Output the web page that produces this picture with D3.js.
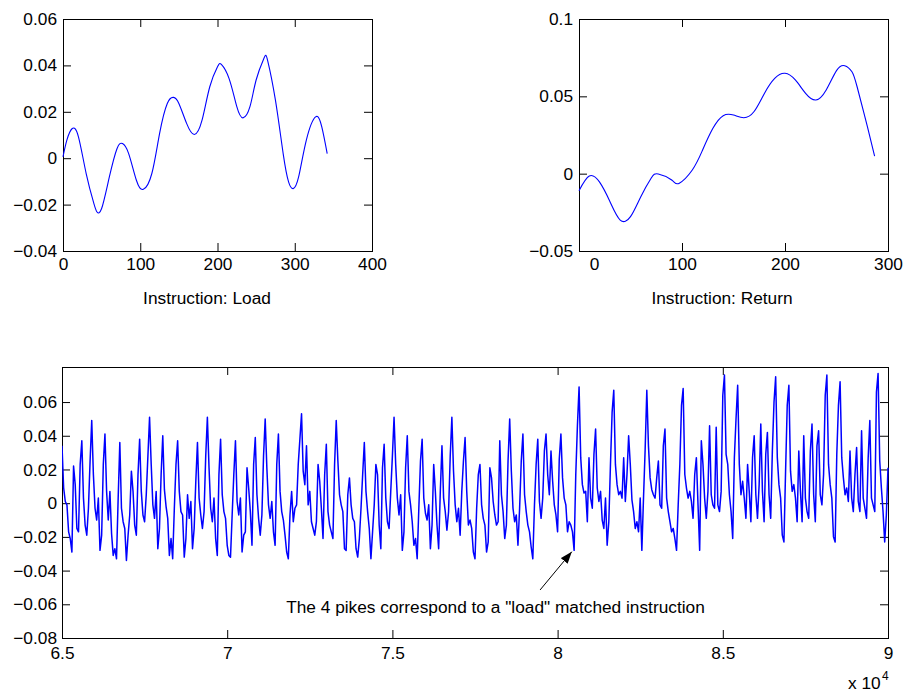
<!DOCTYPE html>
<html>
<head>
<meta charset="utf-8">
<script src="https://cdn.jsdelivr.net/npm/d3@7"></script>
<style>
  body { margin: 0; background: #fff; }
  svg text { font-family: "Liberation Sans", Arial, Helvetica, sans-serif; }
</style>
</head>
<body>
<svg id="fig" width="905" height="692"></svg>
<script>
//////////////////////////////////////////////////////////// DATA ////////////////////////////////////////////////////////////

// top left: instruction "Load" template
var loadX = [0, 5, 12, 20, 30, 40, 44, 50, 60, 70, 77, 85, 95, 104, 115, 125, 135, 143, 150, 160,
             170, 180, 190, 200, 205, 215, 225, 233, 242, 250, 260, 265, 275, 285, 292, 298, 305, 315, 327, 335, 342];
var loadY = [0.0006, 0.0078, 0.0128, 0.0092, -0.0066, -0.0196, -0.0232, -0.0217, -0.0081, 0.0042, 0.0063, 0.0020, -0.0095, -0.0134, -0.0066, 0.0106, 0.0236, 0.0262, 0.0236, 0.0150,
             0.0102, 0.0164, 0.0308, 0.0394, 0.0404, 0.0343, 0.0222, 0.0174, 0.0222, 0.0337, 0.0430, 0.0420, 0.0250, 0.0020, -0.0102, -0.0131, -0.0081, 0.0078, 0.0178, 0.0135, 0.0020];

// top right: instruction "Return" template
var retX = [0, 10, 20, 30, 40, 50, 60, 70, 77, 90, 97, 110, 120, 130, 140, 150, 160, 170, 180, 190,
            200, 210, 220, 230, 240, 250, 258, 265, 270, 280, 287];
var retY = [-0.0110, -0.0015, -0.0055, -0.0180, -0.0300, -0.0278, -0.0149, -0.0030, -0.0002, -0.0041, -0.0063, 0.0024, 0.0153, 0.0293, 0.0375, 0.0379, 0.0362, 0.0402, 0.0519, 0.0616,
            0.0649, 0.0606, 0.0519, 0.0476, 0.0541, 0.0666, 0.0698, 0.0659, 0.0562, 0.0304, 0.0114];

// bottom: power trace, one value every 50 samples from 65000, in thousandths
var traceStart = 65000;
var traceStep = 50;
var traceMilli = [
  34, 9, 1, -1, -17, -21, -29, 22, 11, -15,
  -17, 23, 37, 3, -13, -19, -3, 25, 49, 17,
  -3, -10, 3, -28, -19, 23, 41, 7, -10, 7,
  -18, -31, -27, -33, 3, 36, -3, -11, -15, -34,
  -19, -7, 19, 7, -13, -19, 17, 38, 7, -7,
  -11, 5, 28, 51, 23, -1, -9, 7, -27, -15,
  17, 40, 8, -2, -9, -31, -21, -33, -3, 23,
  37, 7, -5, -7, -32, -21, 5, -9, 1, -27,
  -15, 13, 36, 3, -7, -15, -5, 28, 51, 21,
  -3, -11, 3, -21, -31, 17, 38, 5, -5, -9,
  -25, -31, -32, -7, 17, 37, 1, -7, 3, -29,
  -19, -17, 21, 9, -5, -25, 23, 39, 5, -9,
  -19, -7, 28, 50, 21, -1, -9, 1, -17, -25,
  23, 41, 7, -5, -10, -19, -29, -33, -7, 7,
  -11, -3, -1, 23, 38, 53, 19, 11, 34, -1,
  7, -11, -15, -19, -11, 23, 13, -3, -21, 17,
  35, -5, -13, -17, -21, 23, 49, 25, 5, -1,
  -5, -27, -28, 5, 15, -1, -9, -11, -27, -32,
  -21, -3, 17, 36, 7, -5, -15, -33, -17, -1,
  23, 17, -13, -27, 21, 35, 3, -11, -15, 7,
  28, 51, 23, 3, -7, 5, -28, -17, 21, 40,
  7, -1, -11, -25, -21, -33, -3, 25, 38, 3,
  -6, -10, -1, -27, -13, 23, 7, -13, -27, 7,
  34, 3, -5, -16, -5, 28, 51, 19, -1, -11,
  -3, -19, 7, 25, 39, 7, -13, -10, -15, -29,
  -33, -3, 17, 23, -1, -9, -13, -29, -23, 21,
  15, 1, -7, -13, -11, 37, 5, -5, -21, -13,
  25, 50, 19, -3, -11, -7, -25, -3, 25, 41,
  5, -5, -13, -17, -26, -33, -1, 23, 38, 1,
  -9, 3, 31, 41, 17, 5, 31, 13, -1, -7,
  -17, 26, 41, 15, 3, -1, -17, -11, -13, -17,
  -28, 17, 46, 69, 27, 11, 6, 7, -11, 27,
  3, -3, 29, 44, 9, 1, 7, -10, -15, 3,
  -25, -11, 23, 54, 67, 23, 11, 5, 7, 3,
  27, 1, 17, 40, 23, 2, -5, -15, -11, -17,
  3, -28, 3, 32, 67, 34, 15, 8, 5, 3,
  15, 25, -1, -3, 34, 44, 3, -5, -11, -17,
  -15, -21, -28, -1, 23, 58, 68, 17, 9, 3,
  7, 1, -9, 17, 27, -1, -28, 37, 23, 3,
  -9, 7, 46, 5, -1, -3, 45, -1, -5, 7,
  64, 76, 29, 23, 5, -5, -21, 27, 50, 70,
  23, 5, 13, 3, -9, 23, 7, -11, 27, 40,
  5, -9, 11, 47, 7, -11, 29, 42, 5, -9,
  31, 60, 75, 27, 11, 3, -19, -23, 19, 58,
  70, 19, 7, 11, 3, -11, 31, 7, -11, 40,
  3, -5, -9, 31, 47, 5, -11, 34, 43, 5,
  -1, 17, 64, 76, 23, 11, 3, -20, -23, 29,
  58, 72, 27, 15, 5, 9, 1, 31, 3, -5,
  17, 33, 1, -5, 43, 3, -3, -9, 27, 49,
  3, -1, -5, 66, 77, 25, 9, -5, -23, -7,
  21
];

// ticks
var loadXTicks = [0, 100, 200, 300, 400];
var loadYTicks = [-0.04, -0.02, 0, 0.02, 0.04, 0.06];
var retXTicks = [0, 100, 200, 300];
var retYTicks = [-0.05, 0, 0.05, 0.1];
var traceXTicks = [65000, 70000, 75000, 80000, 85000, 90000];
var traceYTicks = [-0.08, -0.06, -0.04, -0.02, 0, 0.02, 0.04, 0.06];

// annotation
var noteText = 'The 4 pikes correspond to a "load" matched instruction';
var notePos = [78120, -0.0652];
var arrowFrom = [79470, -0.0515];
var arrowTo = [80430, -0.0288];

//////////////////////////////////////////////////////////// DRAW ////////////////////////////////////////////////////////////
var svg = d3.select("#fig");
var FS = 17.3;
var FONT = "Liberation Sans, Arial, Helvetica, sans-serif";

// matlab style numbers: 0.06, 0.1, −0.02
function numFmt(v) {
  if (Math.abs(v) < 1e-12) return "0";
  var s = String(Number(Math.abs(v).toFixed(4)));
  return (v < 0 ? "\u2212" : "") + s;
}

// boxed axes with ticks inside on all four sides
function boxAxes(x, y, xTicks, yTicks, xFmt, yFmt, xPad, yPad) {
  var g = svg.append("g");
  var x0 = x.range()[0], x1 = x.range()[1], y0 = y.range()[0], y1 = y.range()[1];

  g.append("g").attr("class", "xaxis").attr("transform", "translate(0," + y0 + ")")
    .call(d3.axisBottom(x).tickValues(xTicks).tickFormat(xFmt).tickSizeInner(-8).tickSizeOuter(0).tickPadding(xPad));
  g.append("g").attr("transform", "translate(0," + y1 + ")")
    .call(d3.axisTop(x).tickValues(xTicks).tickFormat("").tickSizeInner(-8).tickSizeOuter(0));
  g.append("g").attr("transform", "translate(" + x0 + ",0)")
    .call(d3.axisLeft(y).tickValues(yTicks).tickFormat(yFmt).tickSizeInner(-8).tickSizeOuter(0).tickPadding(yPad));
  g.append("g").attr("transform", "translate(" + x1 + ",0)")
    .call(d3.axisRight(y).tickValues(yTicks).tickFormat("").tickSizeInner(-8).tickSizeOuter(0));

  g.selectAll(".domain").remove();
  g.selectAll("g").attr("font-size", FS).attr("font-family", FONT);
  g.selectAll(".tick line").attr("stroke", "#000");
  g.selectAll(".tick text").attr("fill", "#000");

  g.append("rect")
    .attr("x", x0 + 0.5).attr("y", y1 + 0.5)
    .attr("width", x1 - x0).attr("height", y0 - y1)
    .attr("fill", "none").attr("stroke", "#000").attr("stroke-width", 1);
  return g;
}

function addClip(id, x, y) {
  svg.append("clipPath").attr("id", id).append("rect")
    .attr("x", x.range()[0]).attr("y", y.range()[1])
    .attr("width", x.range()[1] - x.range()[0] + 1)
    .attr("height", y.range()[0] - y.range()[1] + 1);
}

//---------------- top left
var xL = d3.scaleLinear().domain([0, 400]).range([63, 372]);
var yL = d3.scaleLinear().domain([-0.04, 0.06]).range([251, 19]);
boxAxes(xL, yL, loadXTicks, loadYTicks, d3.format("d"), numFmt, 7, 6);
svg.append("path")
  .datum(d3.zip(loadX, loadY))
  .attr("fill", "none").attr("stroke", "#0000ff").attr("stroke-width", 1.1)
  .attr("d", d3.line().x(d => xL(d[0])).y(d => yL(d[1])).curve(d3.curveNatural));
svg.append("text").attr("x", 207).attr("y", 304).attr("text-anchor", "middle")
  .attr("font-size", FS).text("Instruction: Load");

//---------------- top right
var xR = d3.scaleLinear().domain([0, 300]).range([579, 888]);
var yR = d3.scaleLinear().domain([-0.05, 0.1]).range([251, 19]);
var gR = boxAxes(xR, yR, retXTicks, retYTicks, d3.format("d"), numFmt, 7, 6);
gR.select(".xaxis").selectAll(".tick text").filter(d => d === 0).attr("dx", 15);
svg.append("path")
  .datum(d3.zip(retX, retY))
  .attr("fill", "none").attr("stroke", "#0000ff").attr("stroke-width", 1.1)
  .attr("d", d3.line().x(d => xR(d[0])).y(d => yR(d[1])).curve(d3.curveNatural));
svg.append("text").attr("x", 722).attr("y", 304).attr("text-anchor", "middle")
  .attr("font-size", FS).text("Instruction: Return");

//---------------- bottom trace
var trace = traceMilli.map((v, i) => [traceStart + i * traceStep, v / 1000]);
var xB = d3.scaleLinear().domain([65000, 90000]).range([62, 888]);
var yB = d3.scaleLinear().domain([-0.08, 0.0808]).range([638, 367]);
boxAxes(xB, yB, traceXTicks, traceYTicks, d => String(d / 10000), numFmt, 9, 5);
addClip("clipB", xB, yB);
svg.append("path")
  .datum(trace)
  .attr("clip-path", "url(#clipB)")
  .attr("fill", "none").attr("stroke", "#0000ff").attr("stroke-width", 1.5)
  .attr("stroke-linejoin", "round")
  .attr("d", d3.line().x(d => xB(d[0])).y(d => yB(d[1])));

// exponent label
svg.append("text").attr("x", 848).attr("y", 689).attr("font-size", FS).text("x 10");
svg.append("text").attr("x", 882).attr("y", 680).attr("font-size", 12).text("4");

// annotation + arrow
svg.append("defs").append("marker")
  .attr("id", "head").attr("markerUnits", "userSpaceOnUse")
  .attr("markerWidth", 13).attr("markerHeight", 10)
  .attr("refX", 12).attr("refY", 4.5).attr("orient", "auto")
  .append("path").attr("d", "M0,0 L12,4.5 L0,9 Z").attr("fill", "#000");
svg.append("line")
  .attr("x1", xB(arrowFrom[0])).attr("y1", yB(arrowFrom[1]))
  .attr("x2", xB(arrowTo[0])).attr("y2", yB(arrowTo[1]))
  .attr("stroke", "#000").attr("stroke-width", 1)
  .attr("marker-end", "url(#head)");
svg.append("text")
  .attr("x", xB(notePos[0])).attr("y", yB(notePos[1]))
  .attr("text-anchor", "middle").attr("font-size", FS)
  .text(noteText);
</script>
</body>
</html>
